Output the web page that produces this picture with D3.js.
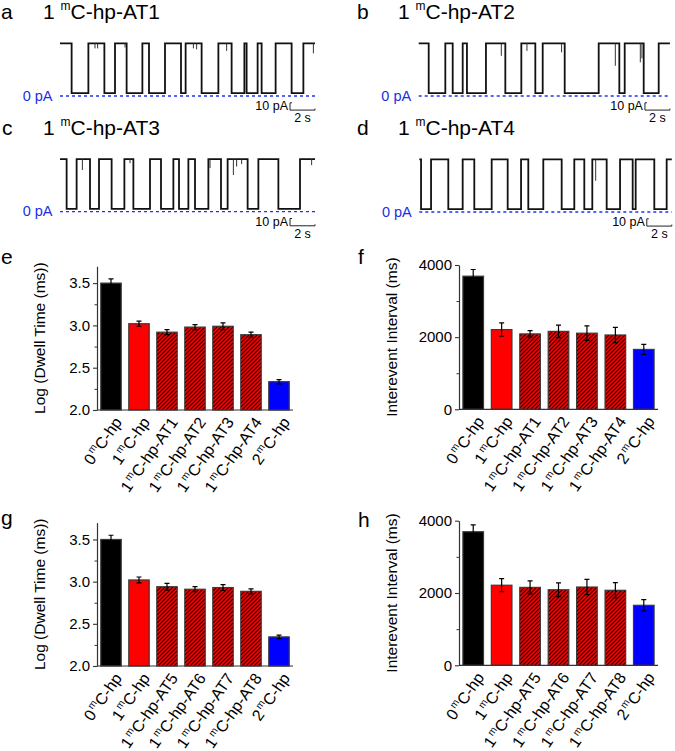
<!DOCTYPE html>
<html><head><meta charset="utf-8">
<script src="https://cdn.jsdelivr.net/npm/d3@7"></script>
<style>body{margin:0;background:#fff}svg{display:block;font-family:Arial,"Liberation Sans",sans-serif}</style>
</head><body><svg id="c" width="675" height="751"></svg>
<script>
// ---------- data: current traces (transition times in s, start in open state) ----------
const traceATimes = [0.93,2.27,3.55,4.40,5.33,6.59,7.12,8.40,9.68,10.05,11.33,12.67,13.73,14.75,14.93,15.81,16.13,17.25,18.53,19.47];
const traceASpikes = [[2.80,0.10],[3.01,0.10],[5.20,0.08],[10.67,0.10],[10.93,0.12],[13.33,0.15],[20.27,0.20]];
const traceBTimes = [0.80,2.13,2.72,3.52,3.86,5.38,6.93,8.21,9.33,9.92,11.68,14.40,16.05,16.48,18.00,19.20];
const traceBSpikes = [[6.61,0.25],[8.66,0.15],[11.43,0.18],[15.73,0.45],[17.73,0.38],[17.86,0.30]];
const traceCTimes = [0.53,1.33,2.40,3.12,4.13,5.15,5.87,7.20,8.08,9.07,9.52,10.27,10.80,11.87,12.88,13.41,15.01,15.87,17.47,19.20];
const traceCSpikes = [[1.79,0.22],[5.60,0.08],[12.00,0.18],[13.87,0.32],[14.13,0.15],[14.53,0.10],[20.13,0.12]];
const traceDTimes = [0.14,0.94,2.32,3.47,4.40,5.79,7.07,8.14,8.72,9.92,11.39,12.40,13.20,13.84,14.99,16.06,17.07,17.31,18.80,19.79];
const traceDSpikes = [[14.11,0.43]];
const traceDurations = [20.4, 20.1, 20.4, 20.2];
const traceTitles = ["C-hp-AT1","C-hp-AT2","C-hp-AT3","C-hp-AT4"];
const openCurrent = 72;   // pA
const blockedCurrent = 4; // pA

// ---------- data: bar charts ----------
const categoriesEF = ["0|C-hp","1|C-hp","1|C-hp-AT1","1|C-hp-AT2","1|C-hp-AT3","1|C-hp-AT4","2|C-hp"];
const categoriesGH = ["0|C-hp","1|C-hp","1|C-hp-AT5","1|C-hp-AT6","1|C-hp-AT7","1|C-hp-AT8","2|C-hp"];
const dwellE = [3.50,3.02,2.92,2.98,2.99,2.89,2.335];
const dwellErrE = [0.05,0.03,0.03,0.03,0.04,0.03,0.025];
const intervalF = [3690,2210,2090,2160,2110,2060,1660];
const intervalErrF = [185,185,90,175,200,210,140];
const dwellG = [3.50,3.02,2.94,2.91,2.93,2.885,2.345];
const dwellErrG = [0.05,0.035,0.04,0.03,0.035,0.03,0.02];
const intervalH = [3695,2215,2155,2090,2165,2075,1660];
const intervalErrH = [190,180,180,190,210,210,155];
const dwellTicks = [2.0,2.5,3.0,3.5];
const dwellMinorTicks = [2.25,2.75,3.25];
const intervalTicks = [0,2000,4000];
const intervalMinorTicks = [1000,3000];
const barKinds = ["black","red","hatch","hatch","hatch","hatch","blue"];

// ---------- drawing ----------
const svg = d3.select("#c");
const FONT = 'Arial,"Liberation Sans",sans-serif';
const defs = svg.append("defs");
const pat = defs.append("pattern").attr("id","hatch").attr("patternUnits","userSpaceOnUse")
  .attr("width",4).attr("height",4);
pat.append("rect").attr("width",4).attr("height",4).attr("fill","#ff0000");
pat.append("path").attr("d","M-1,1 l2,-2 M0,4 l4,-4 M3,5 l2,-2").attr("stroke","#000").attr("stroke-width",1.1);
const fillOf = {black:"#000000", red:"#ff0000", hatch:"url(#hatch)", blue:"#0000ff"};

function panelLetter(letter, x, y){
  svg.append("text").attr("x",x).attr("y",y).attr("font-size",21).attr("fill","#000").text(letter);
}

function trace(cfg){
  const {times, spikes, T, x0, y0, letter, lx, tx, ty, title} = cfg;
  panelLetter(letter, lx, ty);
  const t = svg.append("text").attr("x",tx).attr("y",ty).attr("font-size",21).attr("fill","#000");
  t.append("tspan").text("1 ");
  t.append("tspan").attr("font-size",12).attr("dy",-9).text("m");
  t.append("tspan").attr("dy",9).text(title);

  const x = d3.scaleLinear().domain([0,T]).range([x0, x0 + T*12.5]);
  const y = d3.scaleLinear().domain([0,10]).range([y0, y0-7.3]);
  // 0 pA dashed line
  svg.append("line").attr("x1",x(0)).attr("x2",x(T)).attr("y1",y(0)).attr("y2",y(0))
    .attr("stroke","#2233ee").attr("stroke-width",1.3).attr("stroke-dasharray","3,3");
  svg.append("text").attr("x",x(0)-7.5).attr("y",y(0)+4.5).attr("text-anchor","end")
    .attr("font-size",14.5).attr("fill","#1a2ee6").text("0 pA");
  // square wave
  const pts = [];
  let cur = openCurrent;
  pts.push([0,cur]);
  times.forEach(tt => { pts.push([tt,cur]); cur = (cur===openCurrent?blockedCurrent:openCurrent); pts.push([tt,cur]); });
  pts.push([T,cur]);
  svg.append("path").attr("d", d3.line().x(d=>x(d[0])).y(d=>y(d[1]))(pts))
    .attr("fill","none").attr("stroke","#111").attr("stroke-width",1.8);
  spikes.forEach(([st,dep]) => {
    svg.append("line").attr("x1",x(st)).attr("x2",x(st)).attr("y1",y(openCurrent))
      .attr("y2",y(openCurrent - dep*(openCurrent-blockedCurrent)))
      .attr("stroke","#333").attr("stroke-width",1);
  });
  // scale bar: 10 pA, 2 s
  const xb = x(T) - 2*12.5;
  const yb1 = y(-9.3), yb2 = y(-19.3);
  svg.append("path").attr("d",`M${xb+2},${yb1} H${xb} V${yb2} H${x(T)} V${yb2-1.5}`)
    .attr("fill","none").attr("stroke","#222").attr("stroke-width",1);
  svg.append("text").attr("x",xb-2).attr("y",yb2).attr("text-anchor","end")
    .attr("font-size",12.5).attr("fill","#000").text("10 pA");
  svg.append("text").attr("x",(xb+x(T))/2).attr("y",yb2+12).attr("text-anchor","middle")
    .attr("font-size",12.5).attr("fill","#000").text("2 s");
}

trace({times:traceATimes, spikes:traceASpikes, T:traceDurations[0], x0:60, y0:96, letter:"a", lx:1, tx:43, ty:19, title:traceTitles[0]});
trace({times:traceBTimes, spikes:traceBSpikes, T:traceDurations[1], x0:418.7, y0:96, letter:"b", lx:357, tx:398, ty:19, title:traceTitles[1]});
trace({times:traceCTimes, spikes:traceCSpikes, T:traceDurations[2], x0:60, y0:211.7, letter:"c", lx:2, tx:43, ty:135, title:traceTitles[2]});
trace({times:traceDTimes, spikes:traceDSpikes, T:traceDurations[3], x0:419.3, y0:212, letter:"d", lx:357, tx:398, ty:135, title:traceTitles[3]});

function barChart(cfg){
  const {cats, vals, errs, domain, yBottom, yTop, x0, x1, ticks, minor, fmt, ylabel, labelX, letter, lx, ly, pi} = cfg;
  panelLetter(letter, lx, ly);
  const x = d3.scaleBand().domain(cats).range([x0,x1]).paddingInner(pi).paddingOuter(pi/2);
  const y = d3.scaleLinear().domain(domain).range([yBottom, yTop]);
  const g = svg.append("g");
  // bars
  g.selectAll("rect.bar").data(cats).enter().append("rect")
    .attr("x", d=>x(d)).attr("width", x.bandwidth())
    .attr("y", (d,i)=>y(vals[i])).attr("height",(d,i)=>y(domain[0])-y(vals[i]))
    .attr("fill",(d,i)=>fillOf[barKinds[i]]).attr("stroke","#3a3a3a").attr("stroke-width",1.2);
  // error bars
  cats.forEach((c,i)=>{
    const cx = x(c)+x.bandwidth()/2, ya = y(vals[i]-errs[i]), yb = y(vals[i]+errs[i]);
    g.append("path").attr("d",`M${cx},${ya} V${yb} M${cx-2.5},${ya} H${cx+2.5} M${cx-2.5},${yb} H${cx+2.5}`)
      .attr("stroke","#000").attr("stroke-width",1.2).attr("fill","none");
  });
  // axes
  const ax = g.append("g").attr("transform",`translate(${x0},0)`)
    .call(d3.axisLeft(y).tickValues(ticks).tickFormat(fmt).tickSize(4).tickSizeOuter(0).tickPadding(3));
  ax.select(".domain").attr("stroke","#333").attr("stroke-width",1.2);
  ax.selectAll(".tick line").attr("stroke","#333").attr("stroke-width",1.1);
  ax.selectAll(".tick text").attr("font-size",15).attr("font-family",FONT).attr("fill","#000");
  const axm = g.append("g").attr("transform",`translate(${x0},0)`)
    .call(d3.axisLeft(y).tickValues(minor).tickFormat("").tickSize(2.5).tickSizeOuter(0));
  axm.select(".domain").remove();
  axm.selectAll(".tick line").attr("stroke","#333").attr("stroke-width",1);
  g.append("line").attr("x1",x0).attr("x2",x1).attr("y1",yBottom).attr("y2",yBottom)
    .attr("stroke","#333").attr("stroke-width",1.2);
  // category labels
  cats.forEach(c=>{
    const [pre, suf] = c.split("|");
    const cx = x(c)+x.bandwidth()/2;
    const t = g.append("text").attr("transform",`translate(${cx+7},${yBottom+9}) rotate(-55)`)
      .attr("text-anchor","end").attr("font-size",16).attr("fill","#000").attr("dy","0.35em");
    t.append("tspan").text(pre);
    t.append("tspan").attr("font-size",10).attr("dx",1.5).attr("dy",-6.5).text("m");
    t.append("tspan").attr("dy",6.5).text(suf);
  });
  // y label
  g.append("text").attr("transform",`translate(${labelX},${(yBottom+yTop)/2}) rotate(-90)`)
    .attr("text-anchor","middle").attr("dy","0.35em").attr("font-size",15.5).attr("fill","#000").text(ylabel);
}

barChart({cats:categoriesEF, vals:dwellE, errs:dwellErrE, domain:[2,3.7], yBottom:410, yTop:266.2, x0:97, x1:293,
  ticks:dwellTicks, minor:dwellMinorTicks, fmt:d3.format(".1f"), ylabel:"Log (Dwell Time (ms))", labelX:40, letter:"e", lx:1, ly:264, pi:0.27});
barChart({cats:categoriesEF, vals:intervalF, errs:intervalErrF, domain:[0,4000], yBottom:409.3, yTop:265, x0:459, x1:658,
  ticks:intervalTicks, minor:intervalMinorTicks, fmt:d3.format("d"), ylabel:"Interevent Interval (ms)", labelX:392, letter:"f", lx:358, ly:264, pi:0.275});
barChart({cats:categoriesGH, vals:dwellG, errs:dwellErrG, domain:[2,3.7], yBottom:666, yTop:522.6, x0:97, x1:293,
  ticks:dwellTicks, minor:dwellMinorTicks, fmt:d3.format(".1f"), ylabel:"Log (Dwell Time (ms))", labelX:40, letter:"g", lx:1, ly:525, pi:0.27});
barChart({cats:categoriesGH, vals:intervalH, errs:intervalErrH, domain:[0,4000], yBottom:665.3, yTop:520.7, x0:459, x1:658,
  ticks:intervalTicks, minor:intervalMinorTicks, fmt:d3.format("d"), ylabel:"Interevent Interval (ms)", labelX:392, letter:"h", lx:358, ly:527, pi:0.275});
</script></body></html>
